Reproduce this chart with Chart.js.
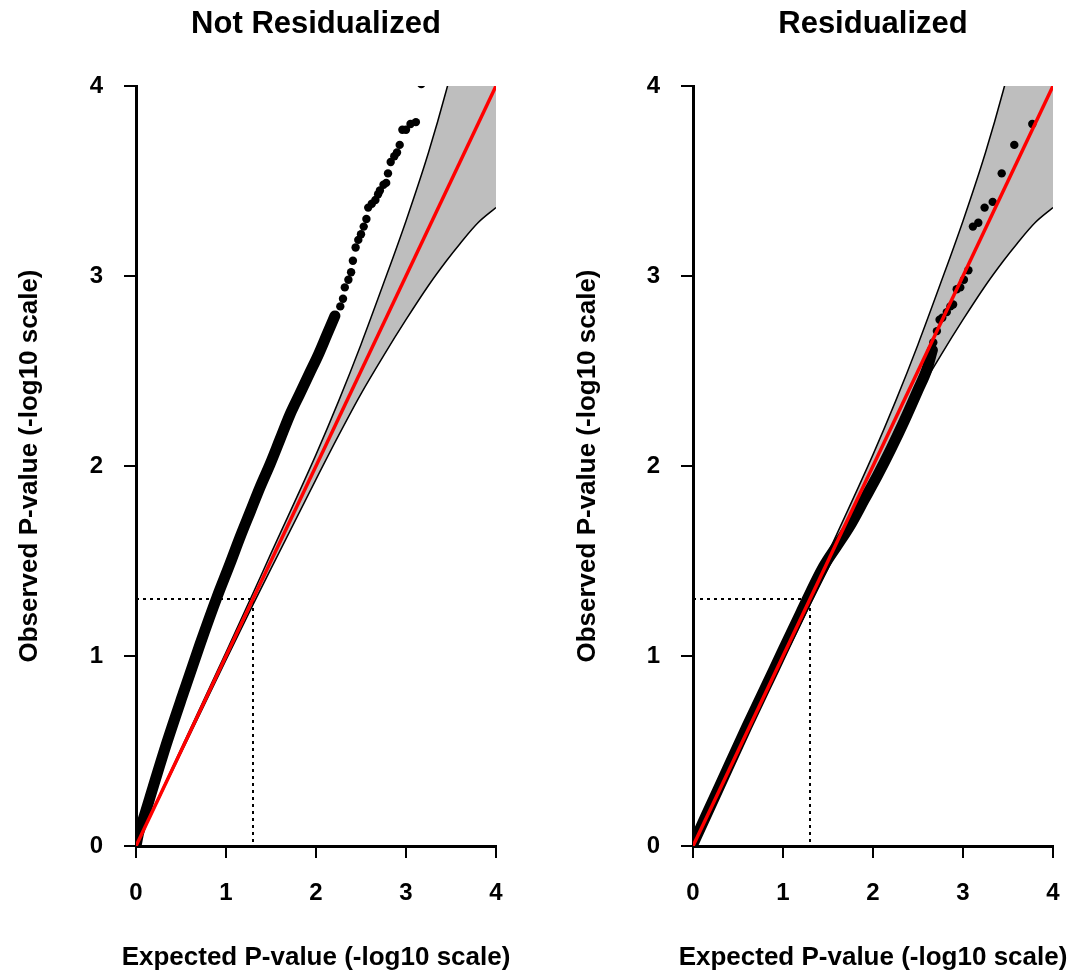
<!DOCTYPE html>
<html>
<head>
<meta charset="utf-8">
<script src="https://cdn.jsdelivr.net/npm/chart.js@4.4.1/dist/chart.umd.min.js"></script>
<style>
  html, body { margin: 0; padding: 0; background: #ffffff; overflow: hidden; }
  body { width: 1076px; height: 972px; position: relative; }
  canvas { position: absolute; top: 0; }
  #left { left: 0; }
  #right { left: 538px; }
</style>
</head>
<body>
<canvas id="left" width="538" height="972"></canvas>
<canvas id="right" width="538" height="972"></canvas>
<script>
// ---------- data ----------
const panelTitles = ['Not Residualized', 'Residualized'];
const xAxisTitle = 'Expected P-value (-log10 scale)';
const yAxisTitle = 'Observed P-value (-log10 scale)';
const tickValues = [0, 1, 2, 3, 4];

// 95% confidence band (shared by both panels)
const bandX     = [0, 0.5, 1.0, 1.3, 1.5, 2.0, 2.25, 2.5, 2.75, 3.0, 3.25, 3.45, 3.6, 3.8, 4.0];
const bandUpper = [0, 0.51, 1.02, 1.33, 1.54, 2.06, 2.34, 2.64, 2.96, 3.29, 3.65, 3.98, 4.26, 4.65, 5.05];
const bandLower = [0, 0.49, 0.98, 1.27, 1.46, 1.93, 2.16, 2.38, 2.58, 2.77, 2.95, 3.08, 3.17, 3.28, 3.36];

// identity line and the p = 0.05 guide (-log10(0.05) = 1.3)
const diagX = [0, 4];
const diagY = [0, 4];
const guideX = [0, 1.3, 1.3];
const guideY = [1.3, 1.3, 0];

// Not Residualized: dense part of the point cloud and the separate top points
const leftDenseX  = [0.00, 0.03, 0.08, 0.19, 0.34, 0.53, 0.71, 0.90, 1.04, 1.16, 1.27, 1.38, 1.49, 1.60, 1.71, 1.82, 1.93, 2.03, 2.12, 2.21];
const leftDenseY  = [0.00, 0.07, 0.14, 0.31, 0.54, 0.81, 1.06, 1.31, 1.48, 1.63, 1.76, 1.89, 2.01, 2.14, 2.27, 2.38, 2.49, 2.59, 2.69, 2.79];
const leftSparseX = [2.27, 2.30, 2.32, 2.36, 2.39, 2.41, 2.44, 2.47, 2.50, 2.53, 2.56, 2.58, 2.62, 2.66, 2.69, 2.71, 2.75, 2.78, 2.80, 2.83, 2.87, 2.90, 2.93, 2.96, 3.00, 3.05, 3.11, 3.17];
const leftSparseY = [2.84, 2.88, 2.94, 2.98, 3.02, 3.08, 3.15, 3.19, 3.22, 3.26, 3.30, 3.36, 3.38, 3.40, 3.43, 3.45, 3.48, 3.49, 3.54, 3.60, 3.63, 3.65, 3.69, 3.77, 3.77, 3.80, 3.81, 4.01];

// Residualized
const rightDenseX  = [0.00, 0.30, 0.60, 0.90, 1.20, 1.45, 1.60, 1.75, 1.90, 2.05, 2.20, 2.35, 2.50, 2.60, 2.66];
const rightDenseY  = [0.01, 0.32, 0.63, 0.93, 1.23, 1.47, 1.58, 1.69, 1.82, 1.95, 2.09, 2.24, 2.40, 2.51, 2.61];
const rightSparseX = [2.67, 2.71, 2.74, 2.77, 2.82, 2.86, 2.89, 2.93, 2.97, 3.01, 3.06, 3.11, 3.17, 3.24, 3.33, 3.43, 3.57, 3.77];
const rightSparseY = [2.65, 2.71, 2.77, 2.78, 2.81, 2.84, 2.85, 2.93, 2.94, 2.98, 3.03, 3.26, 3.28, 3.36, 3.39, 3.54, 3.69, 3.80];

// ---------- drawing ----------
const FONT = "'Liberation Sans', Arial, Helvetica, sans-serif";
function pts(xs, ys) { return xs.map((x, i) => ({ x: x, y: ys[i] })); }

// x-axis title drawn centred under the plot area without width compression
const xTitlePlugin = {
  id: 'xTitle',
  afterDraw: function (chart) {
    const ctx = chart.ctx;
    const a = chart.chartArea;
    ctx.save();
    ctx.fillStyle = '#000';
    ctx.font = 'bold 26px ' + FONT;
    ctx.textAlign = 'center';
    ctx.textBaseline = 'middle';
    ctx.fillText(xAxisTitle, (a.left + a.right) / 2, 958);
    ctx.restore();
  }
};

function axisOpts(isX, fitSize, yTitlePad) {
  return {
    type: 'linear',
    position: isX ? 'bottom' : 'left',
    min: 0,
    max: 4,
    afterFit: function (s) {
      if (isX) { s.height = fitSize; s.paddingLeft = 0; s.paddingRight = 0; }
      else { s.width = fitSize; }
    },
    afterBuildTicks: function (s) { s.ticks = tickValues.map(v => ({ value: v })); },
    ticks: {
      color: '#000',
      font: { family: FONT, size: 24, weight: 'bold' },
      padding: 21,
      maxRotation: 0,
      autoSkip: false
    },
    grid: {
      display: true,
      drawOnChartArea: false,
      drawTicks: true,
      tickLength: 12,
      lineWidth: 2,
      color: '#000'
    },
    border: { display: true, width: 3, color: '#000' },
    title: isX ? { display: false } : {
      display: true,
      text: yAxisTitle,
      color: '#000',
      font: { family: FONT, size: 26, weight: 'bold', lineHeight: 1 },
      padding: { top: yTitlePad, bottom: 0 }
    }
  };
}

function makeChart(id, title, denseX, denseY, sparseX, sparseY, yAxisWidth, yTitlePad, rightPad) {
  const ctx = document.getElementById(id).getContext('2d');
  return new Chart(ctx, {
    type: 'line',
    data: {
      datasets: [
        { // identity line (on top)
          data: pts(diagX, diagY),
          borderColor: '#ff0000',
          borderWidth: 3.5,
          pointRadius: 0,
          fill: false
        },
        { // isolated points
          data: pts(sparseX, sparseY),
          showLine: false,
          pointRadius: 4.2,
          pointBackgroundColor: '#000',
          pointBorderWidth: 0,
          fill: false
        },
        { // dense cloud of points
          data: pts(denseX, denseY),
          borderColor: '#000',
          borderWidth: 11,
          borderCapStyle: 'round',
          borderJoinStyle: 'round',
          cubicInterpolationMode: 'monotone',
          pointRadius: 0,
          fill: false
        },
        { // p = 0.05 guide
          data: pts(guideX, guideY),
          borderColor: '#000',
          borderWidth: 2,
          borderDash: [3, 4],
          pointRadius: 0,
          tension: 0,
          fill: false
        },
        { // band upper
          data: pts(bandX, bandUpper),
          borderColor: '#000',
          borderWidth: 1.5,
          pointRadius: 0,
          cubicInterpolationMode: 'monotone',
          backgroundColor: '#bebebe',
          fill: '+1'
        },
        { // band lower
          data: pts(bandX, bandLower),
          borderColor: '#000',
          borderWidth: 1.5,
          pointRadius: 0,
          cubicInterpolationMode: 'monotone',
          fill: false
        }
      ]
    },
    options: {
      responsive: false,
      devicePixelRatio: 1,
      animation: false,
      events: [],
      layout: { padding: { top: 0, left: 0, right: rightPad, bottom: 0 } },
      plugins: {
        legend: { display: false },
        tooltip: { enabled: false },
        filler: { drawTime: 'beforeDatasetsDraw' },
        title: {
          display: true,
          text: title,
          fullSize: false,
          color: '#000',
          font: { family: FONT, size: 31, weight: 'bold', lineHeight: 1.2 },
          padding: { top: 5.4, bottom: 43.4 }
        }
      },
      scales: {
        x: axisOpts(true, 126, 0),
        y: axisOpts(false, yAxisWidth, yTitlePad)
      }
    },
    plugins: [xTitlePlugin]
  });
}

makeChart('left', panelTitles[0], leftDenseX, leftDenseY, leftSparseX, leftSparseY, 136, 17, 42);
makeChart('right', panelTitles[1], rightDenseX, rightDenseY, rightSparseX, rightSparseY, 155, 37, 23);
</script>
</body>
</html>
